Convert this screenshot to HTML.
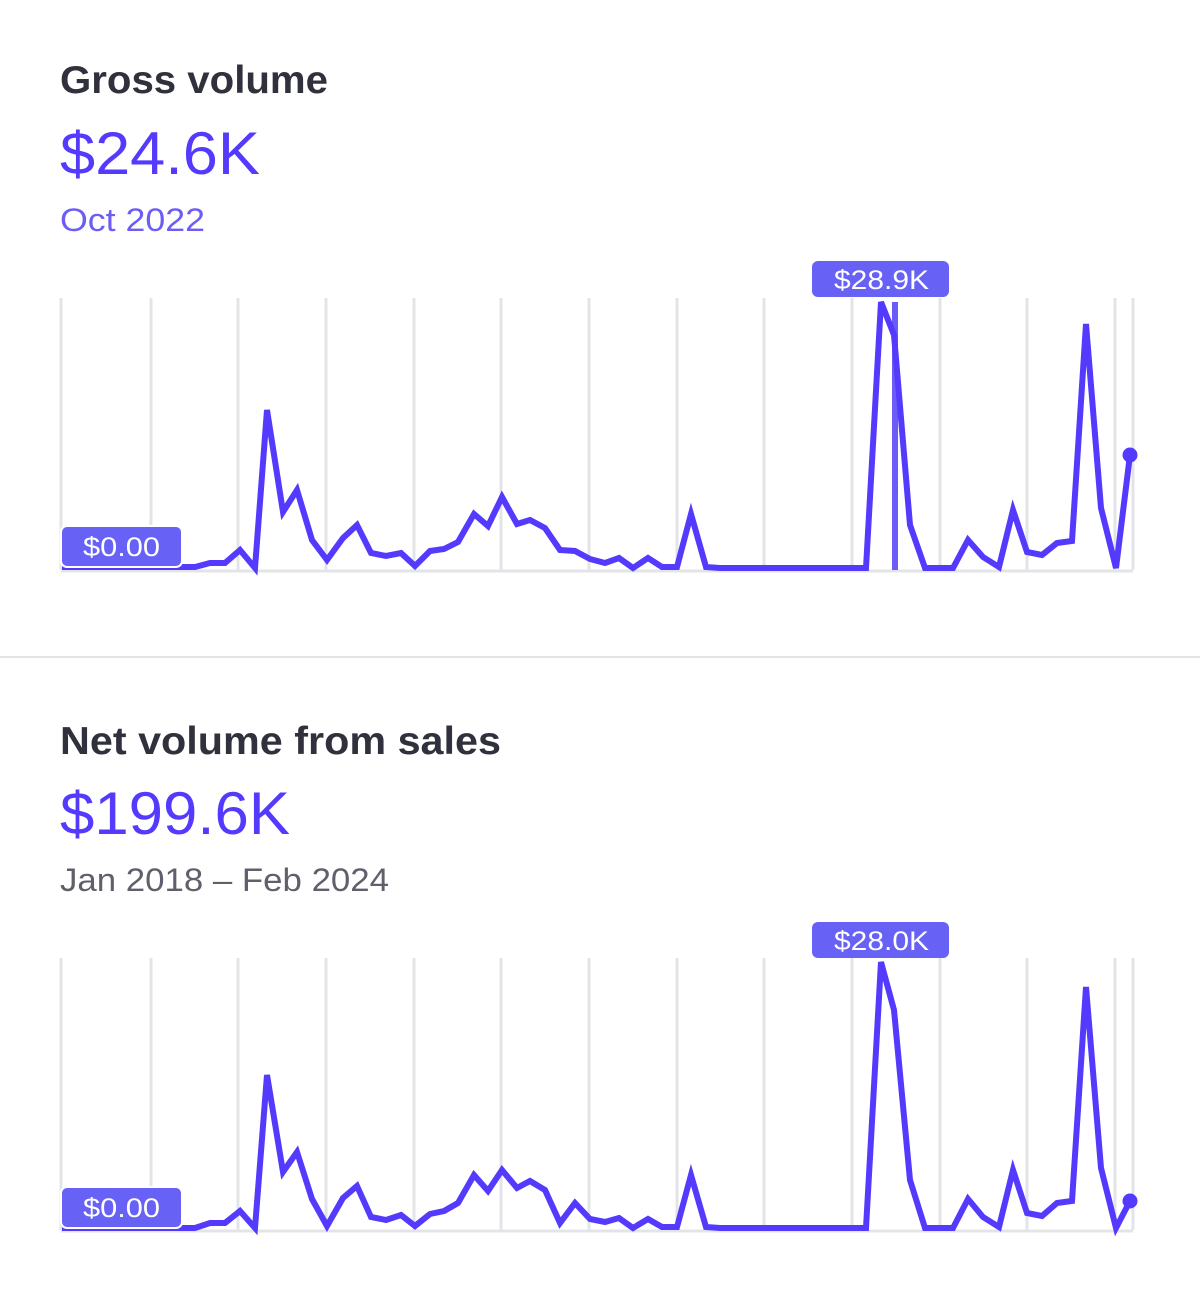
<!DOCTYPE html>
<html><head><style>
html,body{margin:0;padding:0;background:#fff;}
svg{display:block;}
</style></head><body>
<svg width="1200" height="1315" xmlns="http://www.w3.org/2000/svg" font-family="Liberation Sans, sans-serif">
<rect width="1200" height="1315" fill="#fff"/>
<!-- Chart 1 header -->
<text x="60" y="93" font-size="39" font-weight="bold" fill="#30313d" textLength="268" lengthAdjust="spacingAndGlyphs">Gross volume</text>
<text x="60" y="174" font-size="60" fill="#533afd" textLength="200" lengthAdjust="spacingAndGlyphs">$24.6K</text>
<text x="60" y="231" font-size="32" fill="#6c5ef5" textLength="145" lengthAdjust="spacingAndGlyphs">Oct 2022</text>
<g stroke="#e3e4e8" stroke-width="3">
<line x1="61" y1="298" x2="61" y2="570"/><line x1="151" y1="298" x2="151" y2="570"/><line x1="238" y1="298" x2="238" y2="570"/><line x1="326" y1="298" x2="326" y2="570"/><line x1="414" y1="298" x2="414" y2="570"/><line x1="501" y1="298" x2="501" y2="570"/><line x1="589" y1="298" x2="589" y2="570"/><line x1="677" y1="298" x2="677" y2="570"/><line x1="764" y1="298" x2="764" y2="570"/><line x1="852" y1="298" x2="852" y2="570"/><line x1="940" y1="298" x2="940" y2="570"/><line x1="1027" y1="298" x2="1027" y2="570"/><line x1="1115" y1="298" x2="1115" y2="570"/><line x1="1133" y1="298" x2="1133" y2="570"/>
<line x1="61" y1="571" x2="1133" y2="571"/>
</g>
<line x1="895" y1="302" x2="895" y2="570" stroke="#6b5cf7" stroke-width="6"/>
<polyline fill="none" stroke="#533afd" stroke-width="6" stroke-linejoin="miter" points="62,567 195,567 210,563 225,563 240,550 255,568 267,410 283,512 297,490 312,540 327,560 343,538 357,525 371,553 386,556 401,553 415,566 430,551 444,549 458,542 474,514 488,526 502,497 517,524 530,520 545,528 560,550 575,551 590,559 605,563 619,558 633,568 648,558 662,567 677,567 691,514 706,567 720,568 866,568 881,302 894,335 910,525 925,568 953,568 968,540 983,557 999,567 1013,510 1027,552 1042,555 1057,543 1072,541 1086,324 1101,508 1116,568 1130,455"/>
<circle cx="1130" cy="455" r="7.5" fill="#533afd"/>
<rect x="61" y="526" width="121" height="41" rx="6" fill="#6761f5" stroke="#fff" stroke-width="2"/>
<text x="83" y="556" font-size="27" fill="#fff" textLength="77" lengthAdjust="spacingAndGlyphs">$0.00</text>
<rect x="812" y="261" width="137" height="36" rx="6" fill="#6761f5"/>
<text x="834" y="289" font-size="27" fill="#fff" textLength="95" lengthAdjust="spacingAndGlyphs">$28.9K</text>

<line x1="0" y1="657" x2="1200" y2="657" stroke="#e3e4e8" stroke-width="2"/>

<!-- Chart 2 header -->
<text x="60" y="754" font-size="39" font-weight="bold" fill="#30313d" textLength="441" lengthAdjust="spacingAndGlyphs">Net volume from sales</text>
<text x="60" y="834" font-size="60" fill="#533afd" textLength="230" lengthAdjust="spacingAndGlyphs">$199.6K</text>
<text x="60" y="891" font-size="32" fill="#5f606b" textLength="329" lengthAdjust="spacingAndGlyphs">Jan 2018 – Feb 2024</text>
<g stroke="#e3e4e8" stroke-width="3">
<line x1="61" y1="958" x2="61" y2="1230"/><line x1="151" y1="958" x2="151" y2="1230"/><line x1="238" y1="958" x2="238" y2="1230"/><line x1="326" y1="958" x2="326" y2="1230"/><line x1="414" y1="958" x2="414" y2="1230"/><line x1="501" y1="958" x2="501" y2="1230"/><line x1="589" y1="958" x2="589" y2="1230"/><line x1="677" y1="958" x2="677" y2="1230"/><line x1="764" y1="958" x2="764" y2="1230"/><line x1="852" y1="958" x2="852" y2="1230"/><line x1="940" y1="958" x2="940" y2="1230"/><line x1="1027" y1="958" x2="1027" y2="1230"/><line x1="1115" y1="958" x2="1115" y2="1230"/><line x1="1133" y1="958" x2="1133" y2="1230"/>
<line x1="61" y1="1231" x2="1133" y2="1231"/>
</g>
<polyline fill="none" stroke="#533afd" stroke-width="6" stroke-linejoin="miter" points="62,1228 195,1228 210,1223 225,1223 240,1211 255,1228 267,1075 283,1172 297,1152 312,1199 327,1226 343,1198 357,1186 371,1217 386,1220 401,1215 415,1226 430,1214 444,1211 458,1203 474,1175 488,1191 502,1170 517,1188 530,1181 545,1190 560,1223 575,1203 590,1219 605,1222 619,1218 633,1228 648,1219 662,1227 677,1227 691,1175 706,1227 720,1228 866,1228 881,962 894,1010 910,1180 925,1228 953,1228 968,1199 983,1217 999,1227 1013,1170 1027,1213 1042,1216 1057,1203 1072,1201 1086,987 1101,1168 1116,1228 1130,1201"/>
<circle cx="1130" cy="1201" r="7.5" fill="#533afd"/>
<rect x="61" y="1187" width="121" height="41" rx="6" fill="#6761f5" stroke="#fff" stroke-width="2"/>
<text x="83" y="1217" font-size="27" fill="#fff" textLength="77" lengthAdjust="spacingAndGlyphs">$0.00</text>
<rect x="812" y="922" width="137" height="36" rx="6" fill="#6761f5"/>
<text x="834" y="950" font-size="27" fill="#fff" textLength="95" lengthAdjust="spacingAndGlyphs">$28.0K</text>
</svg>
</body></html>
